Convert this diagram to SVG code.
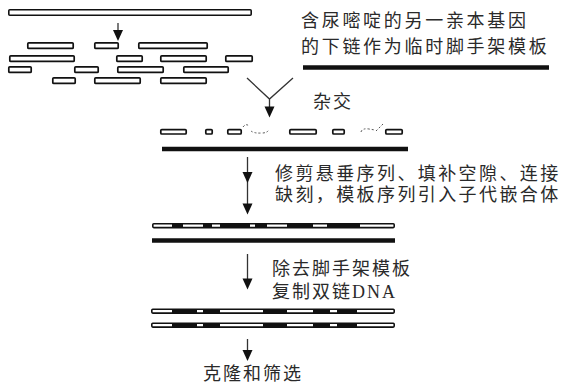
<svg xmlns="http://www.w3.org/2000/svg" width="561" height="389" viewBox="0 0 561 389">
  <style>
    .bar { fill: #fff; stroke: #111; stroke-width: 1.6; }
    .frag { fill: #fff; stroke: #111; stroke-width: 1.7; }
    .seg { fill: #111; }
    .thick { stroke: #111; stroke-width: 4.6; stroke-linecap: butt; fill: none; }
    .flap { fill: none; stroke: #555; stroke-width: 1; stroke-dasharray: 2 2; }
    .conn { stroke: #333; stroke-width: 1.3; fill: none; }
    .lbl { font-family: "Liberation Serif", "Noto Sans CJK SC", serif; font-size: 18px; fill: #2a2a2a; }
  </style>
  <defs>
    <path id="ah" d="M-5,0 L5,0 L0,11 Z" fill="#111"/>
  </defs>

  <!-- parent strand and its fragments -->
  <g id="parent-fragments">
    <rect class="bar" x="8.8" y="9.8" width="242.4" height="5.4" rx="1"/>
    <rect class="frag" x="27.8" y="42.8" width="45.4" height="5.6" rx="1"/>
    <rect class="frag" x="94.8" y="42.8" width="23.4" height="5.6" rx="1"/>
    <rect class="frag" x="138.8" y="42.8" width="68.4" height="5.6" rx="1"/>
    <rect class="frag" x="9.8" y="55.8" width="64.4" height="5.6" rx="1"/>
    <rect class="frag" x="116.8" y="55.8" width="25.4" height="5.6" rx="1"/>
    <rect class="frag" x="160.8" y="55.8" width="45.4" height="5.6" rx="1"/>
    <rect class="frag" x="225.8" y="55.8" width="26.4" height="5.6" rx="1"/>
    <rect class="frag" x="8.8" y="66.8" width="22.4" height="5.6" rx="1"/>
    <rect class="frag" x="74.8" y="66.8" width="23.4" height="5.6" rx="1"/>
    <rect class="frag" x="117.8" y="66.8" width="45.4" height="5.6" rx="1"/>
    <rect class="frag" x="183.8" y="66.8" width="44.4" height="5.6" rx="1"/>
    <rect class="frag" x="52.8" y="77.8" width="22.4" height="5.6" rx="1"/>
    <rect class="frag" x="94.8" y="77.8" width="45.4" height="5.6" rx="1"/>
    <rect class="frag" x="160.8" y="77.8" width="45.4" height="5.6" rx="1"/>
  </g>

  <!-- scaffold strand -->
  <g id="scaffold">
    <text class="lbl" x="301" y="27" letter-spacing="2.7">含尿嘧啶的另一亲本基因</text>
    <text class="lbl" x="301" y="53" letter-spacing="2.7">的下链作为临时脚手架模板</text>
    <line class="thick" x1="303" y1="67.5" x2="549" y2="67.5"/>
  </g>

  <!-- annealed fragments on the scaffold -->
  <g id="hybrid">
    <text class="lbl" x="313" y="108" letter-spacing="2">杂交</text>
    <rect class="frag" x="160.8" y="129.6" width="25.4" height="4.4" rx="1"/>
    <rect class="frag" x="205.8" y="129.6" width="6.4" height="4.4" rx="1"/>
    <rect class="frag" x="227.8" y="129.6" width="13.4" height="4.4" rx="1"/>
    <path class="flap" d="M243,127 Q246,123 249,126 M251,131 Q254,133.5 262,133 Q268,133 269,129"/>
    <rect class="frag" x="289.8" y="129.6" width="26.4" height="4.4" rx="1"/>
    <rect class="frag" x="332.8" y="129.6" width="11.4" height="4.4" rx="1"/>
    <path class="flap" d="M361,132 Q362,128 369,129 L375,130 M376,131 L383,124"/>
    <rect class="frag" x="385.8" y="129.6" width="16.4" height="4.4" rx="1"/>
    <line class="thick" x1="162" y1="149" x2="408" y2="149"/>
  </g>

  <!-- repaired chimeric duplex -->
  <g id="chimera">
    <text class="lbl" x="275" y="180" letter-spacing="2.4">修剪悬垂序列、填补空隙、连接</text>
    <text class="lbl" x="275" y="201" letter-spacing="2.4">缺刻，模板序列引入子代嵌合体</text>
    <rect class="bar" x="152.8" y="223.8" width="241.4" height="3.8" rx="1"/>
    <rect class="seg" x="172" y="223.5" width="11" height="4.5"/>
    <rect class="seg" x="203" y="223.5" width="9" height="4.5"/>
    <rect class="seg" x="220" y="223.5" width="30" height="4.5"/>
    <rect class="seg" x="255" y="223.5" width="12" height="4.5"/>
    <rect class="seg" x="287" y="223.5" width="26" height="4.5"/>
    <rect class="seg" x="327" y="223.5" width="33" height="4.5"/>
    <line class="thick" x1="152" y1="240.5" x2="395" y2="240.5"/>
  </g>

  <!-- double-stranded copies -->
  <g id="duplex">
    <text class="lbl" x="272" y="275" letter-spacing="2">除去脚手架模板</text>
    <text class="lbl" x="272" y="298" letter-spacing="2">复制双链DNA</text>
    <rect class="bar" x="151.8" y="309.3" width="242.4" height="3.8" rx="1"/>
    <rect class="seg" x="172" y="309" width="25" height="4.5"/>
    <rect class="seg" x="203" y="309" width="17" height="4.5"/>
    <rect class="seg" x="263" y="309" width="24" height="4.5"/>
    <rect class="seg" x="313" y="309" width="17" height="4.5"/>
    <rect class="seg" x="337" y="309" width="20" height="4.5"/>
    <rect class="bar" x="151.8" y="323.3" width="242.4" height="3.8" rx="1"/>
    <rect class="seg" x="172" y="323" width="25" height="4.5"/>
    <rect class="seg" x="203" y="323" width="17" height="4.5"/>
    <rect class="seg" x="263" y="323" width="24" height="4.5"/>
    <rect class="seg" x="313" y="323" width="17" height="4.5"/>
    <rect class="seg" x="337" y="323" width="20" height="4.5"/>
  </g>

  <!-- cloning step -->
  <g id="cloning">
    <text class="lbl" x="203" y="380" letter-spacing="2">克隆和筛选</text>
  </g>

  <!-- connectors -->
  <g id="connectors">
    <line class="conn" x1="118" y1="23" x2="118" y2="31"/>
    <use href="#ah" x="118" y="30"/>

    <path class="conn" d="M247,78 L269.5,99 L293,78 M269.5,99 L269.5,107"/>
    <use href="#ah" x="269.5" y="106.5"/>

    <line class="conn" x1="247.5" y1="157" x2="247.5" y2="204"/>
    <use href="#ah" x="247.5" y="172"/>
    <use href="#ah" x="247.5" y="203.5"/>

    <line class="conn" x1="247.5" y1="254" x2="247.5" y2="279"/>
    <use href="#ah" x="247.5" y="278.5"/>

    <line class="conn" x1="247.5" y1="339" x2="247.5" y2="351"/>
    <use href="#ah" x="247.5" y="350"/>
  </g>
</svg>
